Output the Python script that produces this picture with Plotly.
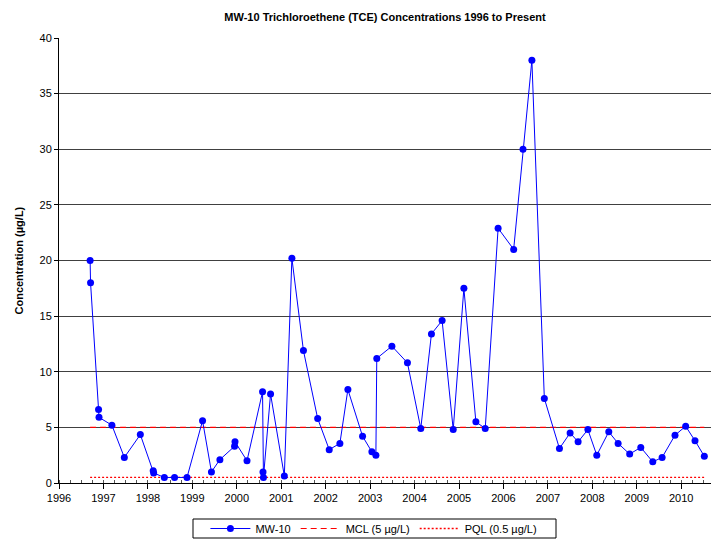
import plotly.graph_objects as go

# Sampling dates (decimal years) and TCE concentrations (ug/L) for MW-10
dates = [1996.70, 1996.71, 1996.89, 1996.90, 1997.19, 1997.47, 1997.83, 1998.12, 1998.13,
         1998.37, 1998.60, 1998.88, 1999.23, 1999.43, 1999.62, 1999.95, 1999.96, 2000.23,
         2000.58, 2000.59, 2000.60, 2000.76, 2001.07, 2001.24, 2001.50, 2001.82, 2002.08,
         2002.32, 2002.50, 2002.83, 2003.04, 2003.13, 2003.15, 2003.49, 2003.84, 2004.14,
         2004.38, 2004.62, 2004.87, 2005.11, 2005.38, 2005.59, 2005.88, 2006.23, 2006.44,
         2006.64, 2006.92, 2007.26, 2007.50, 2007.68, 2007.90, 2008.10, 2008.37, 2008.58,
         2008.84, 2009.09, 2009.36, 2009.57, 2009.86, 2010.10, 2010.31, 2010.52]
tce = [20.0, 18.0, 6.6, 5.9, 5.2, 2.3, 4.35, 1.1, 0.9,
       0.5, 0.5, 0.5, 5.6, 1.0, 2.1, 3.3, 3.7, 2.0,
       8.2, 1.0, 0.5, 8.0, 0.63, 20.2, 11.9, 5.8, 3.0,
       3.56, 8.4, 4.2, 2.8, 2.5, 11.2, 12.3, 10.8, 4.9,
       13.4, 14.6, 4.8, 17.5, 5.5, 4.9, 22.9, 21.0, 30.0,
       38.0, 7.6, 3.1, 4.5, 3.7, 4.8, 2.5, 4.6, 3.56,
       2.6, 3.2, 1.9, 2.3, 4.3, 5.1, 3.8, 2.4]

limit_dates = [1996.70, 2010.52]
mcl = [5, 5]
pql = [0.5, 0.5]
year_ticks = list(range(1996, 2011))

fig = go.Figure()
fig.add_trace(go.Scatter(x=limit_dates, y=pql, mode="lines", name="PQL (0.5 µg/L)",
                         line=dict(color="#FF0000", width=1.3, dash="2px,2px"),
                         legendrank=3))
fig.add_trace(go.Scatter(x=limit_dates, y=mcl, mode="lines", name="MCL (5 µg/L)",
                         line=dict(color="#FF0000", width=1.2, dash="6px,4px"),
                         legendrank=2))
fig.add_trace(go.Scatter(x=dates, y=tce, mode="lines+markers", name="MW-10",
                         line=dict(color="#0000FF", width=1),
                         marker=dict(color="#0000FF", size=7), legendrank=1))

fig.update_layout(
    width=713, height=540,
    margin=dict(l=59, r=2, t=38, b=57, autoexpand=False),
    paper_bgcolor="white", plot_bgcolor="white",
    font=dict(family="Arial, Liberation Sans, sans-serif", size=11, color="black"),
    title=dict(text="<b>MW-10 Trichloroethene (TCE) Concentrations 1996 to Present</b>",
               x=0.54, xanchor="center", y=0.968, yanchor="middle",
               font=dict(size=11)),
    showlegend=True,
    legend=dict(orientation="h", x=0.483, xanchor="center", y=-(528.5 - 483) / 445,
                yanchor="middle", borderwidth=0, bgcolor="rgba(0,0,0,0)",
                font=dict(size=11), itemwidth=40, tracegroupgap=0, traceorder="normal"),
    shapes=[dict(type="rect", xref="paper", yref="paper",
                 x0=(193 - 59) / 652, x1=(556 - 59) / 652,
                 y0=-(538 - 483) / 445, y1=-(519 - 483) / 445,
                 line=dict(color="black", width=1), fillcolor="rgba(0,0,0,0)", layer="below")],
    xaxis=dict(range=[1996, 2010.67], tickvals=year_ticks, ticktext=[str(y) for y in year_ticks],
               showgrid=False, zeroline=False, showline=True, linecolor="black", linewidth=1,
               ticks="outside", ticklen=5, tickcolor="black", automargin=False,
               minor=dict(ticks="inside", dtick=0.25, tick0=1996, ticklen=3, tickcolor="#555"),
               tickfont=dict(size=11)),
    yaxis=dict(range=[0, 40], dtick=5, showgrid=True, gridcolor="#404040", gridwidth=1,
               zeroline=False, showline=True, linecolor="black", linewidth=1,
               ticks="outside", ticklen=4, tickcolor="black", automargin=False,
               tickfont=dict(size=11)),
    annotations=[dict(text="<b>Concentration (µg/L)</b>", textangle=-90,
                      xref="paper", yref="paper", x=-(59 - 18) / 652, y=0.5,
                      xanchor="center", yanchor="middle", showarrow=False,
                      font=dict(size=11))],
)

fig.write_html("out.html", config={"displayModeBar": False},
               post_script="document.body.style.margin='0';")
